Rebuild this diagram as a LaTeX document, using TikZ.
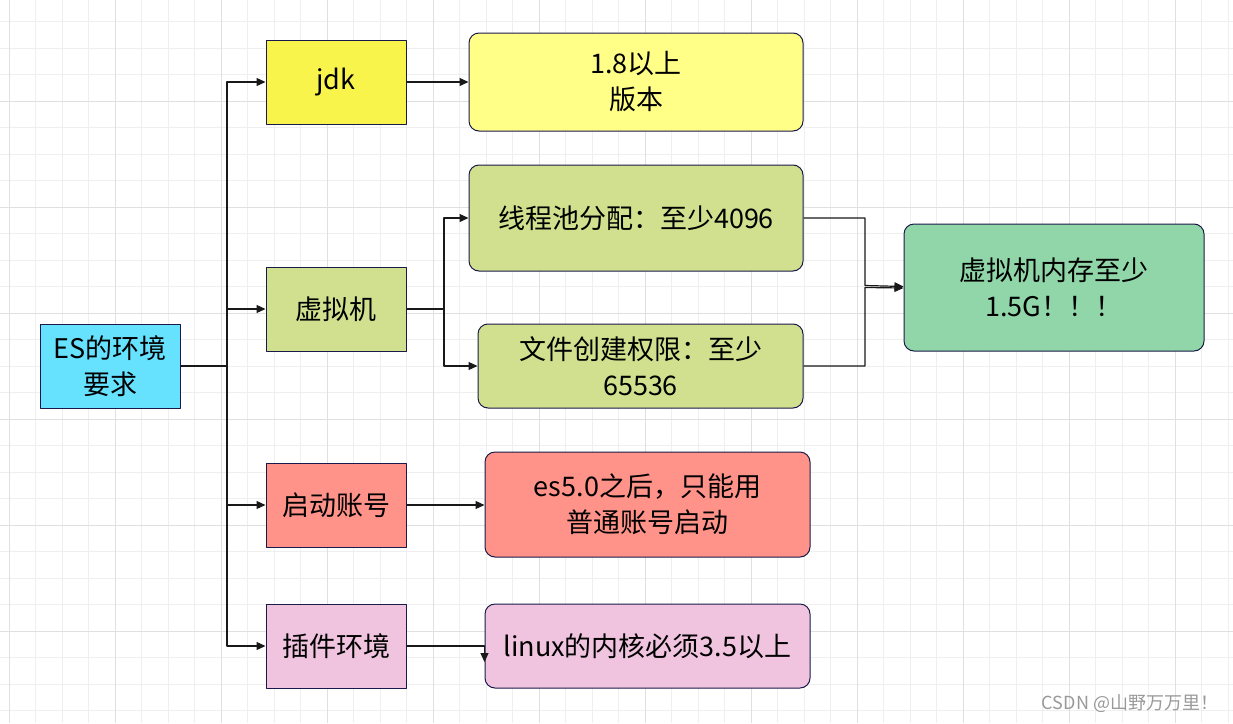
\documentclass[tikz,border=0pt]{standalone}
\usepackage{fontspec}
\setmainfont{Noto Sans CJK SC}
\usepackage{tikz}
\usetikzlibrary{arrows.meta,calc}
\definecolor{edge}{HTML}{1A1A4A}
\definecolor{gridmin}{HTML}{EFEFEF}
\definecolor{gridmaj}{HTML}{E0E0E0}
\definecolor{cyanfill}{HTML}{66E2FF}
\definecolor{jdkfill}{HTML}{F9F44B}
\definecolor{lightyellow}{HTML}{FFFF88}
\definecolor{olivefill}{HTML}{D1E08E}
\definecolor{greenfill}{HTML}{90D6A8}
\definecolor{salmonfill}{HTML}{FF938A}
\definecolor{pinkfill}{HTML}{F0C4DF}
\tikzset{
  every picture/.style={line join=round, >={Triangle[length=9pt,width=8pt]}},
  box/.style={draw=edge, line width=1pt, minimum width=140pt, minimum height=84pt,
    align=center, inner sep=2pt, font=\fontsize{27}{36}\selectfont},
  rbox/.style={box, rounded corners=10pt},
  link/.style={line width=1.2pt, black!90},
}
\begin{document}
\begin{tikzpicture}[x=1pt,y=-1pt]
\useasboundingbox (0,0) rectangle (1233,723);
\fill[white] (0,0) rectangle (1233,723);
% grid
\foreach \i in {0,...,46}
  \draw[gridmin, line width=1pt] (9.3+26.5*\i,0) -- (9.3+26.5*\i,723);
\foreach \i in {0,...,27}
  \draw[gridmin, line width=1pt] (0,-5+26.5*\i) -- (1233,-5+26.5*\i);
\foreach \i in {0,...,11}
  \draw[gridmaj, line width=1pt] (9.3+106*\i,0) -- (9.3+106*\i,723);
\foreach \i in {0,...,7}
  \draw[gridmaj, line width=1pt] (0,-5+106*\i) -- (1233,-5+106*\i);

% left column
\node[box, fill=cyanfill] (es) at (110,366) {ES的环境\\要求};
\node[box, fill=jdkfill] (jdk) at (336,82) {jdk};
\node[box, fill=olivefill] (vm) at (336,309) {虚拟机};
\node[box, fill=salmonfill] (boot) at (336,505) {启动账号};
\node[box, fill=pinkfill] (plugin) at (336,646) {插件环境};

% right column
\node[rbox, fill=lightyellow, minimum width=334pt, minimum height=98pt] (version) at (636,82) {1.8以上\\版本};
\node[rbox, fill=olivefill, minimum width=334pt, minimum height=106pt] (pool) at (636,218) {线程池分配：至少4096};
\node[rbox, fill=olivefill, minimum width=325pt, minimum height=84pt] (files) at (640.5,366) {文件创建权限：至少\\65536};
\node[rbox, fill=greenfill, minimum width=300pt, minimum height=127pt] (memory) at (1054,287.5) {虚拟机内存至少\\1.5G！！！};
\node[rbox, fill=salmonfill, minimum width=325pt, minimum height=105pt] (account) at (647.5,504.5) {es5.0之后，只能用\\普通账号启动};
\node[rbox, fill=pinkfill, minimum width=325pt, minimum height=84pt] (kernel) at (647.5,646) {linux的内核必须3.5以上};

% connectors
\coordinate (trunk) at (227,366);
\coordinate (fork) at (444,309);
\coordinate (join) at (865,287);
\draw[link] (es.east) -- (trunk);
\draw[link,->] (trunk) |- (jdk.west);
\draw[link,->] (trunk) |- (vm.west);
\draw[link,->] (trunk) |- (boot.west);
\draw[link,->] (trunk) |- (plugin.west);
\draw[link,->] (jdk.east) -- (version.west);
\draw[link] (vm.east) -- (fork);
\draw[link,->] (fork) |- (pool.west);
\draw[link,->] (fork) |- (files.west);
\draw[link,->] (pool.east) -| ($(join)+(0,-1.5)$) -- ($(memory.west)+(0,-1)$);
\draw[link,->] (files.east) -| ($(join)+(0,0.5)$) -- ($(memory.west)+(0,0.5)$);
\draw[link,->] (boot.east) -- (account.west |- boot.east);
\draw[link,->] (plugin.east) -| ($(kernel.west)+(0,16)$);

\node[text=black!40, font=\fontsize{18}{20}\selectfont] (mark) at (1130,704) {CSDN @山野万万里！};
\end{tikzpicture}
\end{document}
